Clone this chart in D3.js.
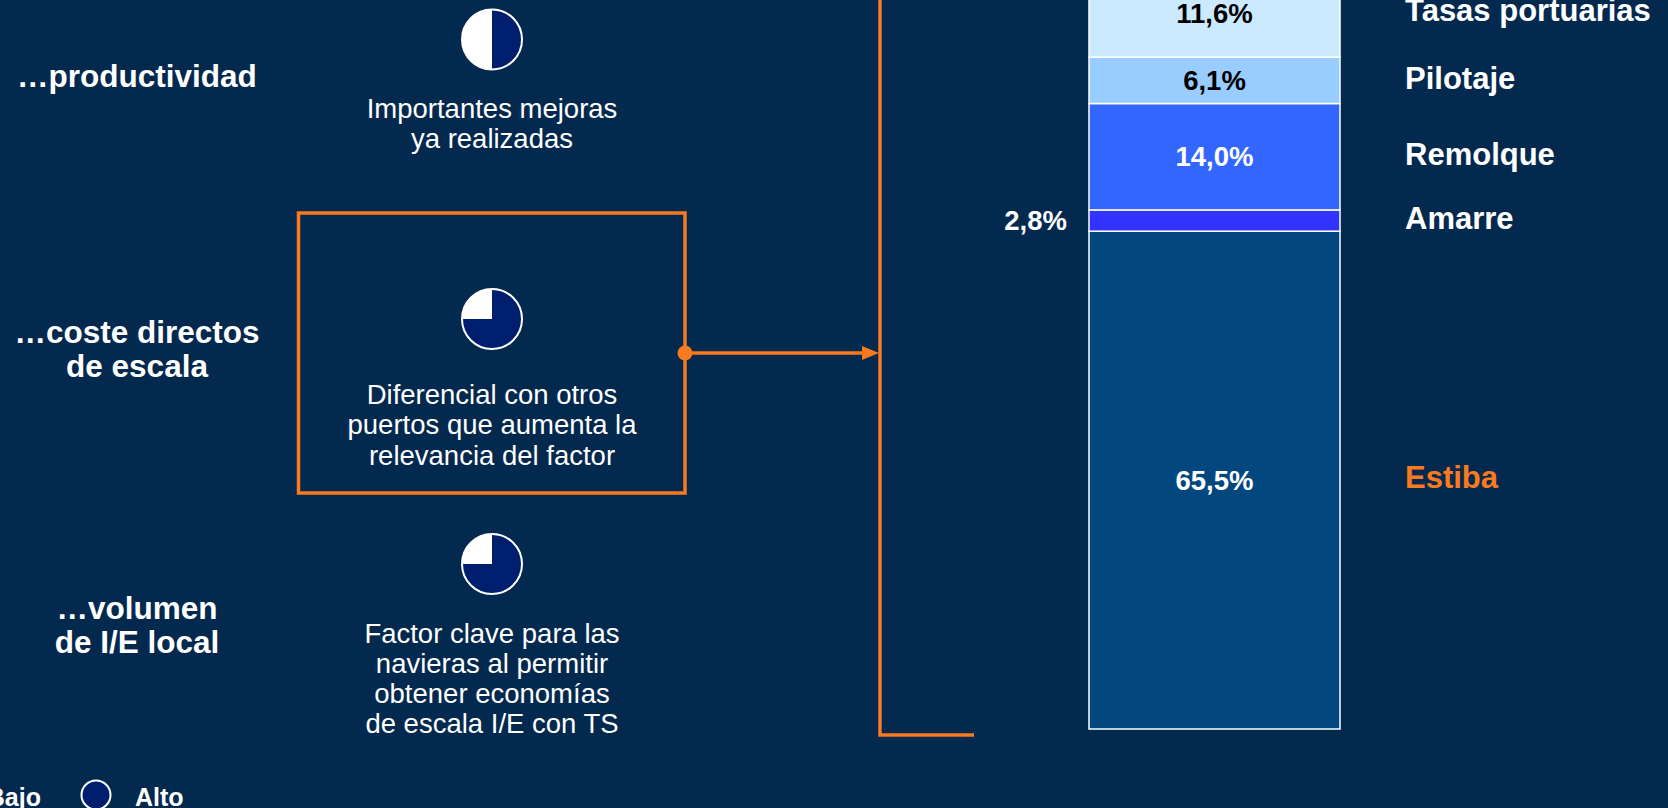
<!DOCTYPE html>
<html>
<head>
<meta charset="utf-8">
<script src="https://cdn.jsdelivr.net/npm/d3@7"></script>
<style>
  html, body { margin: 0; padding: 0; background: #03294e; overflow: hidden; }
  text { font-family: "Liberation Sans", Arial, sans-serif; }
</style>
</head>
<body>
<div id="viz"></div>
<script>
// factors (left side) and their rating in quarters of a Harvey ball
var factors = [["…productividad"], ["…coste directos", "de escala"], ["…volumen", "de I/E local"]];
var ratings = [2, 3, 3];
var notes = [
  ["Importantes mejoras", "ya realizadas"],
  ["Diferencial con otros", "puertos que aumenta la", "relevancia del factor"],
  ["Factor clave para las", "navieras al permitir", "obtener economías", "de escala I/E con TS"]
];

// cost breakdown, bottom to top
var segments = ["Estiba", "Amarre", "Remolque", "Pilotaje", "Tasas portuarias"];
var shares = [65.5, 2.8, 14.0, 6.1, 11.6];

var legendLabels = ["Bajo", "Alto"];

var width = 1668,
    height = 808;

var orange = "#f97a1f",
    ballBlue = "#001e6e";

var segColor = d3.scaleOrdinal()
    .domain(segments)
    .range(["#02487e", "#3333ff", "#3366ff", "#99ccff", "#cceaff"]);
var segText = d3.scaleOrdinal()
    .domain(segments)
    .range(["#fff", "#fff", "#fff", "#000", "#000"]);

var es = d3.formatLocale({decimal: ",", thousands: ".", grouping: [3], currency: ["", "€"]});
var pct = function(v) { return es.format(".1f")(v) + "%"; };

var svg = d3.select("#viz").append("svg")
    .attr("width", width)
    .attr("height", height);

// ---- left: factors, Harvey balls and notes ----
var rowBall = [39.5, 319, 564],
    rowLabel = [87, 342.5, 618.5],
    rowNote = [117.5, 404, 642.5];

var pie = d3.pie().sort(null).value(function(d) { return d; });
var arc = d3.arc().innerRadius(0).outerRadius(30);

var rows = svg.selectAll("g.row")
    .data(factors)
  .enter().append("g")
    .attr("class", "row");

rows.append("text")
    .attr("x", 137)
    .attr("y", function(d, i) { return rowLabel[i]; })
    .attr("text-anchor", "middle")
    .attr("fill", "#fff")
    .attr("font-weight", "bold")
    .attr("font-size", 31.5)
  .selectAll("tspan")
    .data(function(d) { return d; })
  .enter().append("tspan")
    .attr("x", 137)
    .attr("dy", function(d, j) { return j ? 34 : 0; })
    .text(function(d) { return d; });

var balls = rows.append("g")
    .attr("transform", function(d, i) { return "translate(492," + rowBall[i] + ")"; });

balls.selectAll("path")
    .data(function(d, i) { return pie([ratings[i], 4 - ratings[i]]); })
  .enter().append("path")
    .attr("d", arc)
    .attr("fill", function(d, j) { return j ? "#fff" : ballBlue; });

balls.append("circle")
    .attr("r", 30)
    .attr("fill", "none")
    .attr("stroke", "#fff")
    .attr("stroke-width", 2);

rows.append("text")
    .attr("y", function(d, i) { return rowNote[i]; })
    .attr("text-anchor", "middle")
    .attr("fill", "#fff")
    .attr("font-size", 27.5)
  .selectAll("tspan")
    .data(function(d, i) { return notes[i]; })
  .enter().append("tspan")
    .attr("x", 492)
    .attr("dy", function(d, j) { return j ? 30.3 : 0; })
    .text(function(d) { return d; });

// highlight box + connector
svg.append("rect")
    .attr("x", 298.5)
    .attr("y", 213)
    .attr("width", 386.5)
    .attr("height", 280)
    .attr("fill", "none")
    .attr("stroke", orange)
    .attr("stroke-width", 3.5);

svg.append("circle")
    .attr("cx", 685)
    .attr("cy", 353)
    .attr("r", 7.5)
    .attr("fill", orange);

svg.append("line")
    .attr("x1", 685).attr("y1", 353)
    .attr("x2", 864).attr("y2", 353)
    .attr("stroke", orange)
    .attr("stroke-width", 3.5);

svg.append("path")
    .attr("d", "M862,346L879,353L862,360Z")
    .attr("fill", orange);

svg.append("path")
    .attr("d", "M880,-5V735H974")
    .attr("fill", "none")
    .attr("stroke", orange)
    .attr("stroke-width", 3.5);

// ---- right: stacked cost bar ----
var y = d3.scaleLinear()
    .domain([0, 100])
    .range([729, -31]);

var x = d3.scaleBand()
    .domain(["coste"])
    .range([1089, 1340]);

var tops = d3.cumsum(shares);
var stack = segments.map(function(s, i) {
  return {name: s, value: shares[i], y0: tops[i] - shares[i], y1: tops[i]};
});

var seg = svg.selectAll("g.seg")
    .data(stack)
  .enter().append("g")
    .attr("class", "seg");

seg.append("rect")
    .attr("x", x("coste"))
    .attr("width", x.bandwidth())
    .attr("y", function(d) { return y(d.y1); })
    .attr("height", function(d) { return y(d.y0) - y(d.y1); })
    .attr("fill", function(d) { return segColor(d.name); })
    .attr("stroke", "#fff")
    .attr("stroke-width", 1.5);

seg.append("text")
    .attr("x", function(d) { return d.value < 5 ? x("coste") - 22 : x("coste") + x.bandwidth() / 2; })
    .attr("y", function(d) { return (y(d.y0) + y(d.y1)) / 2; })
    .attr("dy", "0.35em")
    .attr("text-anchor", function(d) { return d.value < 5 ? "end" : "middle"; })
    .attr("fill", function(d) { return d.value < 5 ? "#fff" : segText(d.name); })
    .attr("font-weight", "bold")
    .attr("font-size", 27.5)
    .text(function(d) { return pct(d.value); });

seg.append("text")
    .attr("x", 1405)
    .attr("y", function(d) { return (y(d.y0) + y(d.y1)) / 2; })
    .attr("dy", "0.27em")
    .attr("fill", function(d) { return d.name === "Estiba" ? orange : "#fff"; })
    .attr("font-weight", "bold")
    .attr("font-size", 31)
    .text(function(d) { return d.name; });

// ---- legend (partly cut off) ----
var legend = svg.append("g").attr("font-weight", "bold").attr("font-size", 25).attr("fill", "#fff");

legend.append("text")
    .attr("x", 41).attr("y", 806)
    .attr("text-anchor", "end")
    .text(legendLabels[0]);

legend.append("circle")
    .attr("cx", 96).attr("cy", 795)
    .attr("r", 14.5)
    .attr("fill", ballBlue)
    .attr("stroke", "#fff")
    .attr("stroke-width", 2);

legend.append("text")
    .attr("x", 135).attr("y", 806)
    .text(legendLabels[1]);
</script>
</body>
</html>
